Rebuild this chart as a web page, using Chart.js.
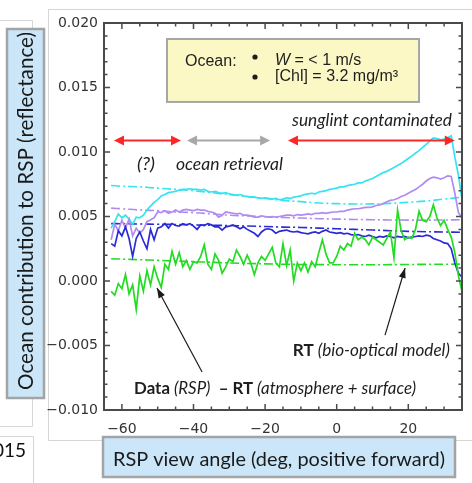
<!DOCTYPE html>
<html>
<head>
<meta charset="utf-8">
<title>Ocean contribution to RSP</title>
<script src="https://cdn.jsdelivr.net/npm/chart.js@4.4.1/dist/chart.umd.min.js"></script>
<style>
  html, body { margin: 0; padding: 0; background: #fff; }
  canvas { display: block; }
</style>
</head>
<body>
<canvas id="rspChart" width="472" height="483"></canvas>
<script>
// values below are in units of 1e-3 reflectance
const UNIT = 1e-3;

// RSP view angles (deg)
const angles = [
  -63, -62, -61, -60, -59, -58, -57, -56, -55, -54,
  -53, -52, -51, -50, -49, -48, -47, -46, -45, -44,
  -43, -42, -41, -40, -39, -38, -37, -36, -35, -34,
  -33, -32, -31, -30, -29, -28, -27, -26, -25, -24,
  -23, -22, -21, -20, -19, -18, -17, -16, -15, -14,
  -13, -12, -11, -10, -9, -8, -7, -6, -5, -4,
  -3, -2, -1, 0, 1, 2, 3, 4, 5, 6,
  7, 8, 9, 10, 11, 12, 13, 14, 15, 16,
  17, 18, 19, 20, 21, 22, 23, 24, 25, 26,
  27, 28, 29, 30, 31, 32, 33, 34, 35
];

// Data (RSP) - RT (atmosphere + surface)
const dataCyan = [
  4.1, 4.6, 5.2, 4.9, 5.1, 4.8, 4.4, 4.95, 4.9, 5.1,
  5.5, 5.8, 6.1, 6.3, 6.6, 6.7, 6.85, 6.9, 6.95, 7.05,
  7.1, 7.1, 7.15, 7.1, 7.1, 7.05, 7.1, 6.95, 6.9, 6.95,
  6.85, 6.8, 6.85, 6.75, 6.7, 6.65, 6.7, 6.6, 6.55, 6.5,
  6.5, 6.45, 6.4, 6.45, 6.4, 6.35, 6.4, 6.3, 6.35, 6.45,
  6.4, 6.5, 6.55, 6.6, 6.7, 6.75, 6.8, 6.75, 6.9, 6.95,
  7.0, 7.1, 7.15, 7.2, 7.3, 7.3, 7.4, 7.45, 7.5, 7.6,
  7.6, 7.75, 7.85, 7.95, 8.1, 8.25, 8.4, 8.5, 8.65, 8.8,
  8.95, 9.1, 9.3, 9.5, 9.7, 9.9, 10.1, 10.35, 10.6, 10.85,
  11.1, 11.05, 10.95, 11.0, 11.1, 11.25, 9.6, 8.2, 6.3
];
const dataPurple = [
  3.2, 4.4, 3.9, 4.7, 4.1, 4.8, 3.5, 4.1, 3.7, 4.0,
  4.6, 4.75, 4.9, 5.35, 5.3, 5.45, 5.25, 5.35, 5.5, 5.35,
  5.5, 5.55, 5.5, 5.45, 5.55, 5.5, 5.5, 5.4, 5.35, 5.25,
  4.95, 5.1, 5.35, 5.3, 5.25, 5.2, 5.25, 5.1, 5.1, 5.05,
  4.95, 4.95, 5.05, 5.0, 4.95, 5.0, 4.95, 5.0, 5.05, 5.1,
  5.1, 5.05, 5.15, 5.1, 5.15, 5.2, 5.15, 5.25, 5.25, 5.3,
  5.25, 5.3, 5.35, 5.35, 5.4, 5.4, 5.5, 5.55, 5.6, 5.6,
  5.65, 5.7, 5.7, 5.75, 5.85, 5.9, 6.0, 6.15, 6.25, 6.3,
  6.4, 6.55, 6.65, 6.8, 6.95, 7.1, 7.3, 7.5, 7.75, 7.95,
  8.05, 8.0, 7.9, 8.0, 8.15, 8.1, 6.8, 5.3, 4.9
];
const dataBlue = [
  2.9, 2.7, 3.9, 3.5, 4.2, 3.3, 1.9, 3.3, 3.8, 3.1,
  2.5, 4.0, 3.2, 4.1, 4.2, 4.45, 4.1, 4.45, 4.3, 4.25,
  4.45, 4.35, 4.45, 4.25, 4.0, 4.35, 4.3, 4.45, 4.35, 4.2,
  4.2, 3.95, 4.2, 4.25, 4.35, 4.2, 4.05, 4.2, 4.0, 3.85,
  3.7, 3.45, 3.8, 4.0, 4.05, 3.95, 3.7, 3.85, 3.9, 3.95,
  3.85, 3.8, 3.85, 3.75, 3.7, 3.65, 3.75, 3.8, 3.7, 3.85,
  3.95, 3.8, 3.75, 3.7, 3.75, 3.65, 3.7, 3.6, 3.55, 3.6,
  3.5, 3.45, 3.55, 3.45, 3.35, 3.45, 3.4, 3.5, 3.45, 3.35,
  3.45, 3.4, 3.45, 3.35, 3.4, 3.45, 3.5, 3.45, 3.55, 3.5,
  3.3, 3.2, 3.1, 2.95, 2.9, 2.5, 1.4, 0.6, 0.3
];
const dataGreen = [
  -0.8, -1.1, -0.2, -0.6, 0.5, -1.0, -0.3, -2.2, 0.4, -0.8,
  0.8, -0.3, 1.1, 0.2, -0.5, 1.3, 0.9, 2.3, 1.3, 2.2,
  1.1, 1.6, 0.9, 1.5, 1.4, 1.9, 2.8, 1.3, 0.9, 2.1,
  1.6, 0.6, 1.1, 1.7, 1.5, 2.4, 1.9, 1.3, 2.0, 1.4,
  0.5, 1.4, 1.9, 1.6, 2.1, 2.6, 1.4, 1.1, 2.9, 1.2,
  2.4, 0.0, 1.4, 0.8, 1.4, 0.7, 1.5, 1.1, 2.2, 3.2,
  2.1, 1.4, 1.4, 1.9, 2.7, 2.4, 2.9, 2.7, 3.7, 3.2,
  3.4, 3.2, 2.8, 3.4, 3.2, 3.0, 2.8, 3.3, 3.8, 1.8,
  5.5, 3.9, 3.2, 3.4, 3.3, 4.0, 5.4, 4.7, 4.6, 5.0,
  5.9, 4.9, 4.3, 4.7, 4.0, 3.4, 2.2, 0.4, -0.8
];

// RT (bio-optical model)
const modelAngles = [-63, -60, -55, -50, -45, -40, -35, -30, -25, -20, -15, -10, -5, 0, 5, 10, 15, 20, 25, 30, 35];
const modelCyan   = [7.4, 7.35, 7.3, 7.2, 7.1, 7.0, 6.85, 6.7, 6.55, 6.4, 6.25, 6.15, 6.05, 6.0, 5.97, 5.98, 6.02, 6.1, 6.2, 6.35, 6.5];
const modelPurple = [5.65, 5.6, 5.5, 5.45, 5.35, 5.3, 5.2, 5.1, 5.05, 4.98, 4.92, 4.88, 4.83, 4.8, 4.77, 4.75, 4.73, 4.72, 4.72, 4.73, 4.75];
const modelBlue   = [4.45, 4.44, 4.42, 4.4, 4.38, 4.35, 4.32, 4.3, 4.26, 4.22, 4.18, 4.15, 4.1, 4.05, 4.0, 3.95, 3.9, 3.85, 3.82, 3.8, 3.78];
const modelGreen  = [1.72, 1.7, 1.65, 1.6, 1.55, 1.5, 1.45, 1.4, 1.36, 1.33, 1.3, 1.28, 1.27, 1.26, 1.26, 1.26, 1.27, 1.28, 1.29, 1.3, 1.31];

const xTickValues = [-60, -40, -20, 0, 20];
const yTickValues = [-0.010, -0.005, 0.000, 0.005, 0.010, 0.015, 0.020];

// angle ranges marked with arrows, and annotation spots (data units)
const spanLevel = 0.0109;
const spans = [
  { from: -62.2, to: -43.5, color: '#ff2626' },
  { from: -41.8, to: -18.6, color: '#a8a8a8' },
  { from: -13.6, to: 33.0, color: '#ff2626' }
];
const pointers = [
  { from: [-37.6, -0.00705], to: [-50.2, -0.00054] },
  { from: [13.5, -0.00419], to: [19.1, 0.00101] }
];

const colors = { cyan: '#34e4f2', purple: '#b08cf0', blue: '#2b2bd6', green: '#22dc22' };

const toPoints = (xs, ys) => xs.map((x, i) => ({ x: x, y: ys[i] * UNIT }));

function solid(values, color) {
  return { data: toPoints(angles, values), borderColor: color, borderWidth: 1.7, pointRadius: 0, fill: false };
}
function model(values, color) {
  return { data: toPoints(modelAngles, values), borderColor: color, borderWidth: 1.6,
           borderDash: [9, 3, 2, 3], pointRadius: 0, fill: false, tension: 0.4 };
}

const minus = s => String(s).replace('-', '\u2212');

// text in several styles, squeezed to a given width
function drawRich(ctx, parts, x, base, width, size, align) {
  const fontOf = p => (p.i ? 'italic ' : '') + (p.b ? 'bold ' : '') + size + 'px Lato';
  let total = 0;
  parts.forEach(p => { ctx.font = fontOf(p); p.w = ctx.measureText(p.t).width; total += p.w; });
  const left = align === 'right' ? x - width : align === 'center' ? x - width / 2 : x;
  ctx.save();
  ctx.translate(left, base);
  ctx.scale(width / total, 1);
  ctx.textAlign = 'left';
  ctx.textBaseline = 'alphabetic';
  let cx = 0;
  parts.forEach(p => { ctx.font = fontOf(p); ctx.fillText(p.t, cx, 0); cx += p.w; });
  ctx.restore();
}

function arrowHead(ctx, x1, y1, x2, y2, len, half) {
  const a = Math.atan2(y2 - y1, x2 - x1);
  ctx.beginPath();
  ctx.moveTo(x2, y2);
  ctx.lineTo(x2 - len * Math.cos(a) + half * Math.sin(a), y2 - len * Math.sin(a) - half * Math.cos(a));
  ctx.lineTo(x2 - len * Math.cos(a) - half * Math.sin(a), y2 - len * Math.sin(a) + half * Math.cos(a));
  ctx.closePath();
  ctx.fill();
}

const page = {
  id: 'page',
  beforeDraw(chart) {
    const ctx = chart.ctx;
    ctx.save();
    ctx.fillStyle = '#fff';
    ctx.fillRect(0, 0, chart.width, chart.height);
    ctx.strokeStyle = '#d6d6d6';
    ctx.lineWidth = 1;
    ctx.beginPath();
    ctx.moveTo(48.5, 440.5); ctx.lineTo(48.5, 9.5); ctx.lineTo(472, 9.5);
    ctx.moveTo(48.5, 440.5); ctx.lineTo(472, 440.5);
    ctx.moveTo(0, 20.5); ctx.lineTo(32.5, 20.5); ctx.lineTo(32.5, 426.5); ctx.lineTo(0, 426.5);
    ctx.moveTo(0, 436.5); ctx.lineTo(33.5, 436.5); ctx.lineTo(33.5, 483);
    ctx.stroke();
    ctx.fillStyle = '#111';
    ctx.font = '19px Lato';
    ctx.textAlign = 'right';
    ctx.fillText('2015', 26, 457);
    ctx.restore();
  },
  afterDraw(chart) {
    const { ctx, chartArea: a, scales: { x, y } } = chart;
    ctx.save();

    // inward ticks on all four sides
    ctx.strokeStyle = '#4a4a4a';
    ctx.lineWidth = 1.5;
    ctx.beginPath();
    for (let v = -65; v <= 35; v += 5) {
      const px = x.getPixelForValue(v);
      const len = v % 20 === 0 ? 6 : 3.5;
      ctx.moveTo(px, a.bottom); ctx.lineTo(px, a.bottom - len);
      ctx.moveTo(px, a.top); ctx.lineTo(px, a.top + len);
    }
    for (let k = -10; k <= 20; k++) {
      const py = y.getPixelForValue(k * 0.001);
      const len = k % 5 === 0 ? 6 : 3.5;
      ctx.moveTo(a.left, py); ctx.lineTo(a.left + len, py);
      ctx.moveTo(a.right, py); ctx.lineTo(a.right - len, py);
    }
    ctx.stroke();
    ctx.lineWidth = 2;
    ctx.strokeRect(a.left, a.top, a.right - a.left, a.bottom - a.top);

    // legend box
    const bx = x.getPixelForValue(-47.4), by = y.getPixelForValue(0.01876);
    const bw = x.getPixelForValue(23.0) - bx, bh = y.getPixelForValue(0.01388) - by;
    ctx.fillStyle = '#fbf8c6';
    ctx.fillRect(bx, by, bw, bh);
    ctx.strokeStyle = '#a6a6a6';
    ctx.lineWidth = 2;
    ctx.strokeRect(bx, by, bw, bh);
    ctx.fillStyle = '#1e1e1e';
    ctx.font = '16px "Liberation Sans"';
    ctx.textAlign = 'left';
    ctx.fillText('Ocean:', bx + 18, by + 27);
    ctx.beginPath(); ctx.arc(bx + 88, by + 18, 2.6, 0, Math.PI * 2); ctx.fill();
    ctx.beginPath(); ctx.arc(bx + 88, by + 38, 2.6, 0, Math.PI * 2); ctx.fill();
    ctx.font = 'italic 16px "Liberation Sans"';
    ctx.fillText('W', bx + 108, by + 26);
    const ww = ctx.measureText('W').width;
    ctx.font = '16px "Liberation Sans"';
    ctx.fillText(' = < 1 m/s', bx + 108 + ww, by + 26);
    ctx.fillText('[Chl] = 3.2 mg/m\u00b3', bx + 108, by + 42);

    // range arrows
    const ly = y.getPixelForValue(spanLevel);
    spans.forEach(s => {
      const x1 = x.getPixelForValue(s.from), x2 = x.getPixelForValue(s.to);
      ctx.strokeStyle = s.color;
      ctx.fillStyle = s.color;
      ctx.lineWidth = 2;
      ctx.beginPath(); ctx.moveTo(x1 + 6, ly); ctx.lineTo(x2 - 6, ly); ctx.stroke();
      arrowHead(ctx, x2, ly, x1, ly, 10, 5);
      arrowHead(ctx, x1, ly, x2, ly, 10, 5);
    });

    // pointer arrows
    ctx.strokeStyle = '#1a1a1a';
    ctx.fillStyle = '#1a1a1a';
    ctx.lineWidth = 1.2;
    pointers.forEach(p => {
      const x1 = x.getPixelForValue(p.from[0]), y1 = y.getPixelForValue(p.from[1]);
      const x2 = x.getPixelForValue(p.to[0]), y2 = y.getPixelForValue(p.to[1]);
      ctx.beginPath(); ctx.moveTo(x1, y1); ctx.lineTo(x2, y2); ctx.stroke();
      arrowHead(ctx, x1, y1, x2, y2, 10, 3.5);
    });

    // annotations
    ctx.fillStyle = '#1e1e1e';
    drawRich(ctx, [{ t: 'sunglint contaminated', i: true }],
      x.getPixelForValue(32.2), y.getPixelForValue(0.01202), 160, 17, 'right');
    drawRich(ctx, [{ t: '(?)', i: true }],
      x.getPixelForValue(-55.8), y.getPixelForValue(0.0086), 18, 17, 'left');
    drawRich(ctx, [{ t: 'ocean retrieval', i: true }],
      x.getPixelForValue(-44.9), y.getPixelForValue(0.0086), 107, 17, 'left');
    drawRich(ctx, [{ t: 'RT', b: true }, { t: ' (bio-optical model)', i: true }],
      x.getPixelForValue(31.6), y.getPixelForValue(-0.00581), 157, 17, 'right');
    drawRich(ctx, [{ t: 'Data', b: true }, { t: ' (RSP)', i: true }, { t: '  \u2013 RT', b: true },
                   { t: ' (atmosphere + surface)', i: true }],
      x.getPixelForValue(-56.6), y.getPixelForValue(-0.00876), 282, 17, 'left');

    // axis title boxes
    ctx.fillStyle = '#cae6f8';
    ctx.strokeStyle = '#a4a4a4';
    ctx.lineWidth = 2.5;
    ctx.fillRect(7, 29, 37, 369);
    ctx.strokeRect(7, 29, 37, 369);
    ctx.fillRect(103, 437, 352, 40);
    ctx.strokeRect(103, 437, 352, 40);
    ctx.fillStyle = '#1a1a1a';
    drawRich(ctx, [{ t: 'RSP view angle (deg, positive forward)' }], 279, 466, 332, 20, 'center');
    ctx.translate(25.5, 211);
    ctx.rotate(-Math.PI / 2);
    drawRich(ctx, [{ t: 'Ocean contribution to RSP (reflectance)' }], 0, 7.5, 358, 21.5, 'center');

    ctx.restore();
  }
};

new Chart(document.getElementById('rspChart'), {
  type: 'line',
  data: {
    datasets: [
      solid(dataGreen, colors.green),
      solid(dataBlue, colors.blue),
      solid(dataPurple, colors.purple),
      solid(dataCyan, colors.cyan),
      model(modelGreen, colors.green),
      model(modelBlue, colors.blue),
      model(modelPurple, colors.purple),
      model(modelCyan, colors.cyan)
    ]
  },
  options: {
    responsive: false,
    animation: false,
    layout: { padding: { top: 23, right: 10, left: 0, bottom: 0 } },
    plugins: { legend: { display: false }, tooltip: { enabled: false } },
    scales: {
      x: {
        type: 'linear', min: -65, max: 35,
        afterFit(s) { s.height = 73; },
        afterBuildTicks(s) { s.ticks = xTickValues.map(v => ({ value: v })); },
        grid: { display: false, drawTicks: false },
        border: { display: false },
        ticks: { autoSkip: false, maxRotation: 0, padding: 11, color: '#333',
                 font: { family: 'DejaVu Sans', size: 14 }, callback: v => minus(v) }
      },
      y: {
        type: 'linear', min: -0.010, max: 0.020,
        afterFit(s) { s.width = 104; },
        afterBuildTicks(s) { s.ticks = yTickValues.map(v => ({ value: v })); },
        grid: { display: false, drawTicks: false },
        border: { display: false },
        ticks: { autoSkip: false, padding: 6, color: '#333',
                 font: { family: 'DejaVu Sans', size: 14 }, callback: v => minus(v.toFixed(3)) }
      }
    }
  },
  plugins: [page]
});
</script>
</body>
</html>
